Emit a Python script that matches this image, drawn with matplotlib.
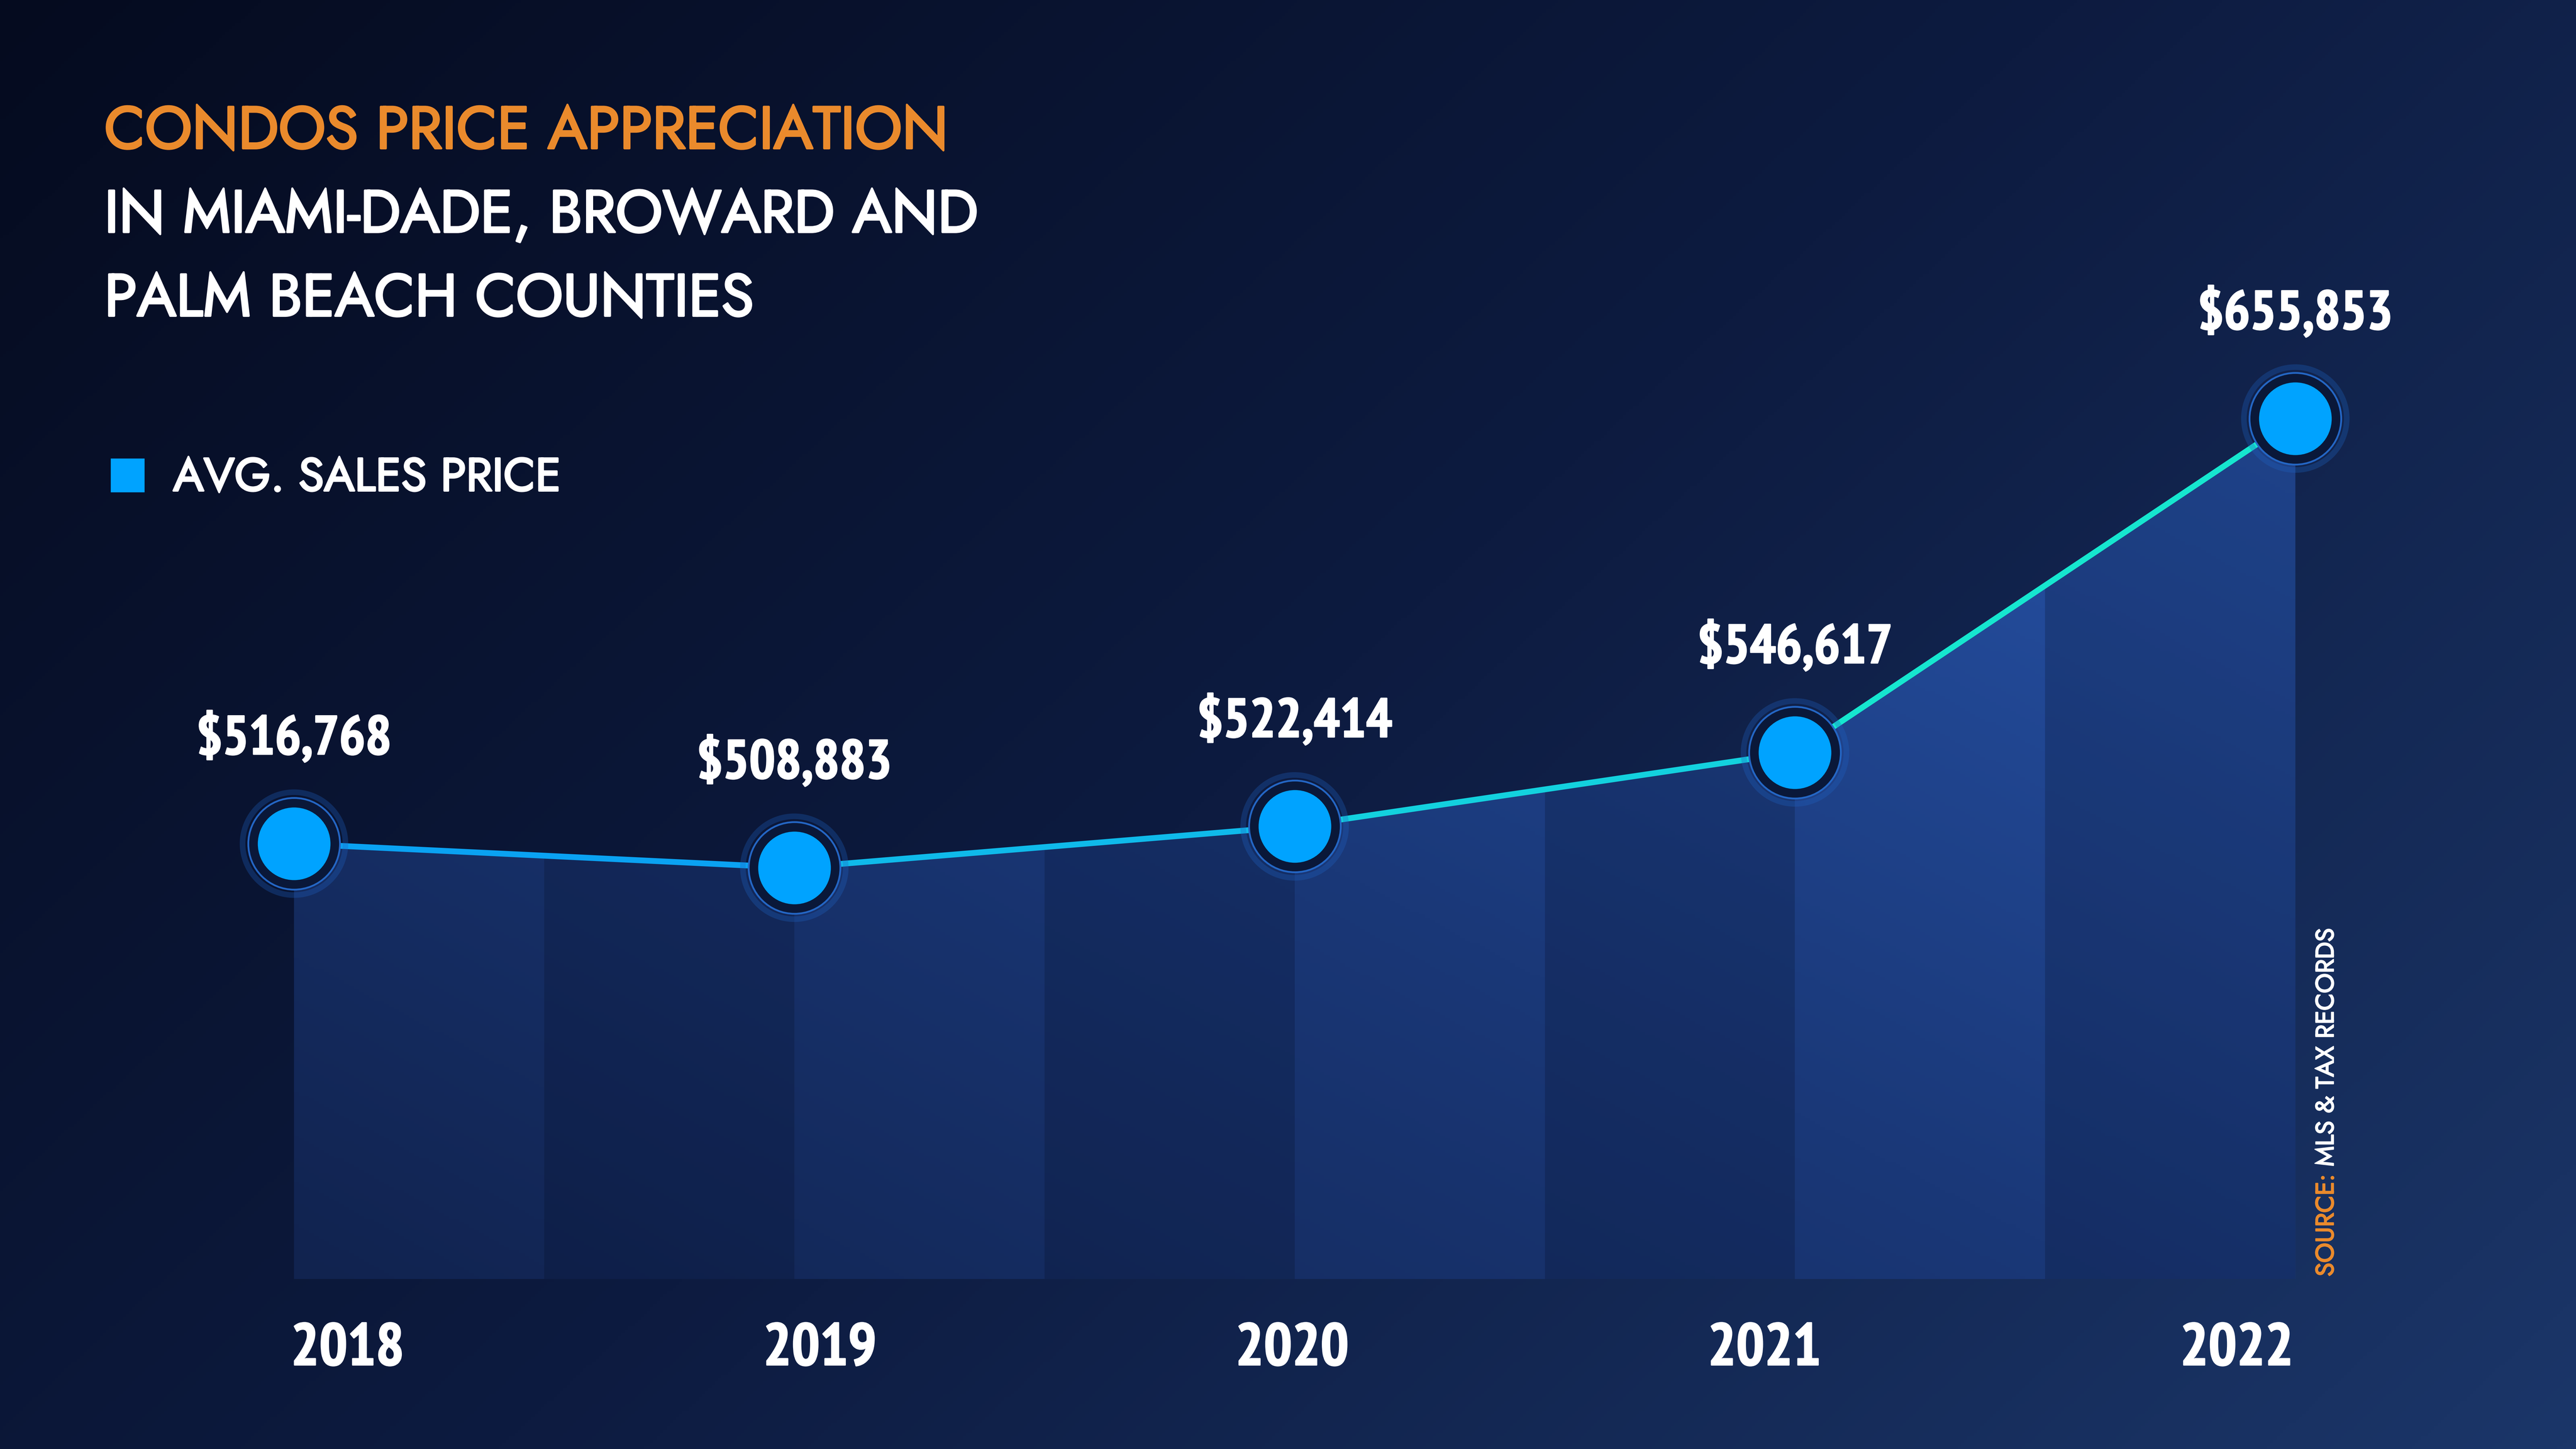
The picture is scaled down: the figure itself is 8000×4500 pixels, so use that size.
import numpy as np
import matplotlib.pyplot as plt
import matplotlib.patheffects as pe
from matplotlib.colors import LinearSegmentedColormap
from matplotlib.collections import LineCollection
from matplotlib.patches import Rectangle
from matplotlib.transforms import blended_transform_factory

# data
years = ['2018', '2019', '2020', '2021', '2022']
avg_price = [516768, 508883, 522414, 546617, 655853]
price_labels = ['$516,768', '$508,883', '$522,414', '$546,617', '$655,853']

title_top = 'CONDOS PRICE APPRECIATION'
title_rest = ['IN MIAMI-DADE, BROWARD AND', 'PALM BEACH COUNTIES']
legend_label = 'AVG. SALES PRICE'
source_head = 'SOURCE:'
source_body = ' MLS & TAX RECORDS'

ORANGE = '#EA8A2C'
DOT = '#00A3FF'
NARROW = ['PT Sans Narrow', 'DejaVu Sans']
HEAD = ['Jost', 'Lato', 'DejaVu Sans']

BASE = 374300          # value at the floor of the shaded area
YLIM = (318700, 792800)
XLIM = (-0.5876, 4.561)


def heavy(color, w=0.9):
    # Jost only ships as a variable font, thicken it a little
    return [pe.withStroke(linewidth=w, foreground=color)]


fig = plt.figure(figsize=(16, 9), dpi=500)

# background gradient
bg = fig.add_axes([0, 0, 1, 1])
bg.axis('off')
u = np.linspace(0, 1, 800)[None, :]
v = np.linspace(0, 1, 450)[:, None]
cmap_bg = LinearSegmentedColormap.from_list('bg', ['#050B1F', '#0D1B40', '#1B3669'])
bg.imshow(np.clip(0.62 * u + 0.38 * v, 0, 1), cmap=cmap_bg, aspect='auto',
          extent=[0, 1, 0, 1], origin='upper')

ax = fig.add_axes([0, 0, 1, 1])
ax.set_facecolor('none')
ax.axis('off')
x = np.arange(len(years))

# shaded area under line, with gradient and alternating stripes
area = ax.fill_between(x, avg_price, BASE, facecolor='none', edgecolor='none')
clip = area.get_paths()[0]
gx = np.linspace(0, 1, 400)[None, :]
gy = np.linspace(0, 1, 300)[:, None]
cmap_fill = LinearSegmentedColormap.from_list('fill', ['#11234F', '#1A3878', '#2753A8'])
im = ax.imshow(np.clip(0.55 * gx + 0.45 * gy, 0, 1), cmap=cmap_fill, aspect='auto',
               extent=[x[0], x[-1], BASE, max(avg_price)], origin='lower', zorder=1)
im.set_clip_path(clip, transform=ax.transData)
for k in range(2 * (len(years) - 1)):
    if k % 2 == 1:
        r = Rectangle((k * 0.5, BASE), 0.5, max(avg_price) - BASE,
                      facecolor='#040A20', alpha=0.22, edgecolor='none', zorder=2)
        ax.add_patch(r)
        r.set_clip_path(clip, transform=ax.transData)

# line with blue->teal colouring
segs = [[(x[i], avg_price[i]), (x[i + 1], avg_price[i + 1])] for i in range(len(x) - 1)]
cmap_line = LinearSegmentedColormap.from_list('line', ['#0AA2F2', '#12C6E6', '#16E6CF'])
lc = LineCollection(segs, colors=cmap_line(np.linspace(0, 1, len(segs))),
                    linewidths=2.6, capstyle='round', zorder=3)
ax.add_collection(lc)

# markers with halo
ax.scatter(x, avg_price, s=46 ** 2, facecolor='none', edgecolor='#1E63C4',
           linewidth=2.5, alpha=0.3, zorder=4)
ax.scatter(x, avg_price, s=41 ** 2, facecolor='#0A1839', edgecolor='#2466C4',
           linewidth=0.8, zorder=4)
ax.scatter(x, avg_price, s=32.5 ** 2, color=DOT, linewidth=0, zorder=5)

for xi, val, lbl in zip(x, avg_price, price_labels):
    ax.annotate(lbl, (xi, val), xytext=(0, 40), textcoords='offset points',
                ha='center', va='baseline', fontsize=24.5, color='white',
                fontweight='bold', family=NARROW, zorder=6,
                path_effects=heavy('white', 0.6))

ax.set_xlim(*XLIM)
ax.set_ylim(*YLIM)

# year labels along the bottom
tr = blended_transform_factory(ax.transData, fig.transFigure)
for xi, yr in zip(x, years):
    ax.text(0.107 + 0.944 * xi, 0.058, yr, transform=tr, ha='center', va='baseline',
            fontsize=26.5, color='white', fontweight='bold', family=NARROW,
            path_effects=heavy('white', 0.6))

# titles
fig.text(0.0405, 0.8976, title_top, fontsize=26.6, color=ORANGE,
         family=HEAD, va='baseline', path_effects=heavy(ORANGE))
fig.text(0.0405, 0.8398, title_rest[0], fontsize=26.6, color='white',
         family=HEAD, va='baseline', path_effects=heavy('white'))
fig.text(0.0405, 0.7820, title_rest[1], fontsize=26.6, color='white',
         family=HEAD, va='baseline', path_effects=heavy('white'))

# legend
fig.patches.append(Rectangle((0.043, 0.6602), 0.0131, 0.0234, transform=fig.transFigure,
                             facecolor=DOT, edgecolor='none'))
fig.text(0.0672, 0.6613, legend_label, fontsize=20.8, color='white',
         family=HEAD, va='baseline', path_effects=heavy('white', 0.8))

# vertical source note
s1 = fig.text(0.9031, 0.119, source_head, rotation=90, fontsize=11.3, color=ORANGE,
              family=HEAD, ha='center', va='bottom', path_effects=heavy(ORANGE, 0.45))
s2 = fig.text(0.9031, 0.119, source_body, rotation=90, fontsize=11.3, color='white',
              family=HEAD, ha='center', va='bottom', path_effects=heavy('white', 0.45))
fig.canvas.draw()
bb = s1.get_window_extent().transformed(fig.transFigure.inverted())
s2.set_position((0.9031, bb.y1))

fig.savefig('out.png', dpi=500)
